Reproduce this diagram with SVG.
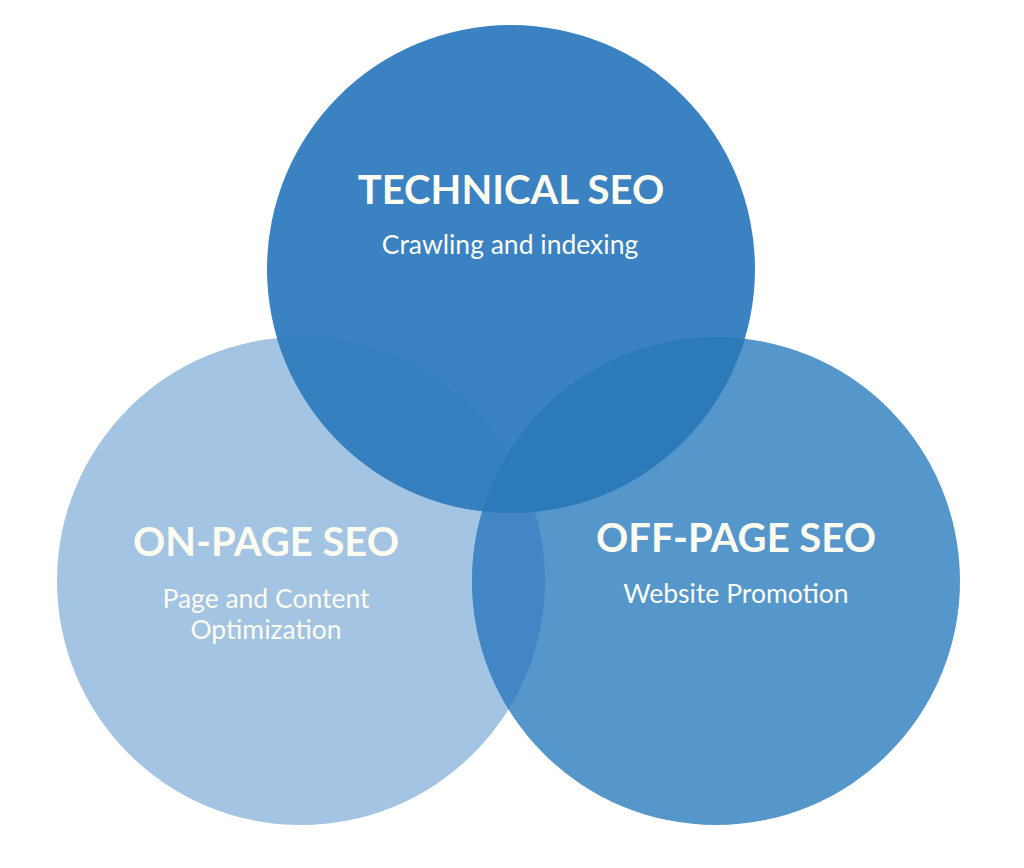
<svg xmlns="http://www.w3.org/2000/svg" width="1024" height="868" viewBox="0 0 1024 868">
<style>
.t{font-family:Lato,"Open Sans","Liberation Sans",sans-serif;fill:#fdfcf0;text-anchor:middle}
.h{font-weight:700;font-size:40px}
.s{font-weight:400;font-size:26.5px}
</style>
<defs>
<clipPath id="cL"><circle cx="301" cy="581" r="244"/></clipPath>
<clipPath id="cR"><circle cx="716" cy="581" r="244"/></clipPath>
<clipPath id="cT"><circle cx="511" cy="269" r="244"/></clipPath>
</defs>
<rect width="1024" height="868" fill="#ffffff"/>
<g id="onpage">
<circle cx="301" cy="581" r="244" fill="#a3c4e2"/>
</g>
<g id="offpage">
<circle cx="716" cy="581" r="244" fill="#5596cb"/>
<circle cx="716" cy="581" r="244" fill="#4386c5" clip-path="url(#cL)"/>
</g>
<g id="technical">
<circle cx="511" cy="269" r="244" fill="#3a82c1"/>
<circle cx="301" cy="581" r="244" fill="#3680c0" clip-path="url(#cT)"/>
<circle cx="716" cy="581" r="244" fill="#2d7aba" clip-path="url(#cT)"/>
</g>
<g id="connectors"></g>
<g id="labels">
<text class="t h" x="511" y="204">TECHNICAL SEO</text>
<text class="t s" x="510" y="254">Crawling and indexing</text>
<text class="t h" x="266" y="556">ON-PAGE SEO</text>
<text class="t s" x="266" y="608">Page and Content</text>
<text class="t s" x="266" y="639">Optimization</text>
<text class="t h" x="736" y="552">OFF-PAGE SEO</text>
<text class="t s" x="736" y="603">Website Promotion</text>
</g>
</svg>
